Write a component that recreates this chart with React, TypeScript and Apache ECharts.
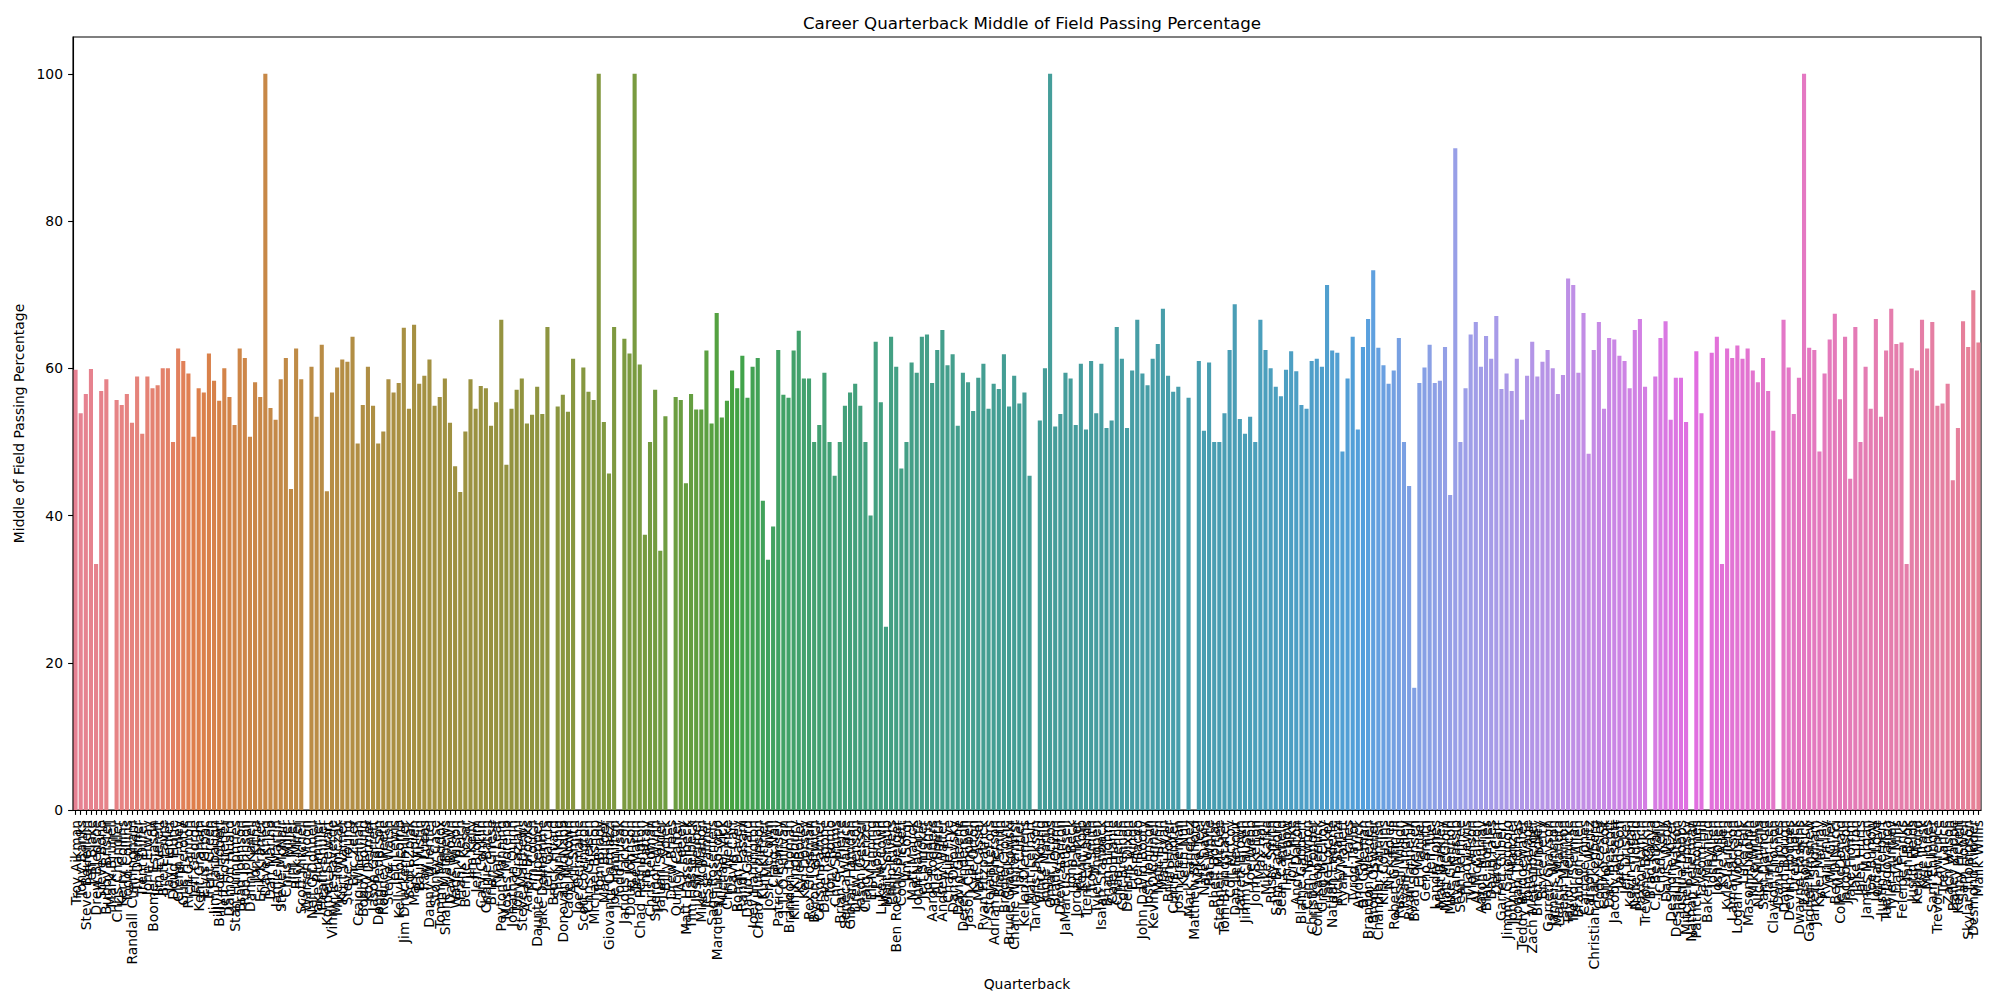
import React, { useEffect, useRef } from "react";
import * as echarts from "echarts";

// ---------- Tick labels (quarterbacks), grouped roughly by debut era ----------
const namesVeteransA = [
  "Troy Aikman", "Tony Banks", "Steve Beuerlein", "Jeff Blake", "Drew Bledsoe", "Steve Bono", "Bubby Brister", "Mark Brunell", "Chris Chandler", "Kerry Collins",
  "Todd Collins", "Randall Cunningham", "Ty Detmer", "Trent Dilfer", "John Elway", "Boomer Esiason", "Jim Everett", "Brett Favre", "Jay Fiedler", "Doug Flutie",
  "Glenn Foley", "Gus Frerotte", "Rich Gannon", "Jeff George", "Kent Graham", "Elvis Grbac", "Trent Green", "Jim Harbaugh", "Billy Joe Hobert", "Jeff Hostetler",
  "Damon Huard", "Stan Humphries", "Brad Johnson", "Rob Johnson", "Danny Kanell", "Jon Kitna", "Erik Kramer", "Dave Krieg", "Dan Marino", "Jamie Martin",
];
const namesVeteransB = [
  "Steve McNair", "Chris Miller", "Jim Miller", "Rick Mirer", "Scott Mitchell", "Warren Moon", "Neil O'Donnell", "Jake Plummer", "Heath Shuler", "Kordell Stewart",
  "Vinny Testaverde", "Mike Tomczak", "Kurt Warner", "Steve Young", "Eric Zeier", "Craig Whelihan", "Bobby Hoying", "Koy Detmer", "Jason Garrett", "Doug Pederson",
  "Rodney Peete", "Steve Walsh", "Jeff Lewis", "Kelly Holcomb", "Jim Druckenmiller", "Scott Zolak", "Mark Rypien", "Paul Justin", "Ray Lucas", "Danny Wuerffel",
  "Stoney Case", "Tommy Maddox", "Shane Matthews", "Dave Brown", "Wade Wilson", "Frank Reich", "Bernie Kosar", "Jim Kelly", "Jeff Brohm", "Cary Conklin",
];
const names1998to2001 = [
  "Charlie Batch", "Brian Griese", "Ryan Leaf", "Peyton Manning", "Moses Moreno", "Jonathan Quinn", "Tony Graziani", "Steve Matthews",
  "Aaron Brooks", "Tim Couch", "Daunte Culpepper", "Jake Delhomme", "Jeff Garcia", "Brock Huard", "Shaun King", "Donovan McNabb", "Cade McNown", "Akili Smith",
  "Joe Germaine", "Scott Covington", "Chris Greisen", "Michael Bishop", "Tom Brady",
  "Marc Bulger", "Giovanni Carmazzi", "Joe Hamilton", "Todd Husak", "Jarious Jackson", "Doug Johnson", "Tee Martin", "Chad Pennington", "Tim Rattay", "Chris Redman",
  "Spergon Wynn", "JaJuan Seider", "Billy Volek",
  "Drew Brees", "Quincy Carter", "A.J. Feeley", "Matt Hasselbeck", "Tim Hasselbeck", "Josh Heupel", "Mike McMahon", "Jesse Palmer", "Sage Rosenfels", "Marques Tuiasosopo",
  "Michael Vick", "Chris Weinke",
];
const names2002to2005 = [
  "David Carr", "Rohan Davey", "Randy Fasani", "David Garrard", "Joey Harrington", "Chad Hutchinson", "Kurt Kittner", "Josh McCown", "Craig Nall", "Patrick Ramsey",
  "J.T. O'Sullivan", "Brandon Doman", "Kliff Kingsbury",
  "Kyle Boller", "Ken Dorsey", "Rex Grossman", "Byron Leftwich", "Carson Palmer", "Dave Ragone", "Tony Romo", "Chris Simms", "Brian St. Pierre", "Seneca Wallace",
  "Gibran Hamdan", "Drew Henson", "Jason Gesser",
  "Craig Krenzel", "Eli Manning", "J.P. Losman", "Luke McCown", "Matt Schaub", "Philip Rivers", "Ben Roethlisberger", "Cody Pickett", "Jim Sorgi", "Matt Mauck",
  "John Navarre", "Jeff Smoker", "Josh Harris",
  "Aaron Rodgers", "Alex Smith", "Andrew Walter", "Charlie Frye", "Dan Orlovsky", "David Greene", "Derek Anderson", "Jason Campbell", "Kyle Orton", "Matt Cassel",
  "Ryan Fitzpatrick", "Stefan LeFors", "Adrian McPherson",
];
const names2006to2010 = [
  "Brad Smith", "Brodie Croyle", "Bruce Gradkowski", "Charlie Whitehurst", "Jay Cutler", "Kellen Clemens", "Matt Leinart", "Tarvaris Jackson", "Vince Young", "Ingle Martin",
  "Omar Jacobs",
  "Brady Quinn", "Drew Stanton", "JaMarcus Russell", "John Beck", "Jordan Palmer", "Kevin Kolb", "Trent Edwards", "Troy Smith", "Tyler Thigpen", "Isaiah Stanback",
  "Brian Brohm", "Caleb Hanie", "Chad Henne", "Colt Brennan", "Dennis Dixon", "Erik Ainge", "Joe Flacco", "John David Booty", "Josh Johnson", "Kevin O'Connell",
  "Matt Flynn", "Matt Ryan",
  "Brian Hoyer", "Curtis Painter", "Josh Freeman", "Keith Null", "Mark Sanchez", "Matthew Stafford", "Mike Teel", "Nate Davis", "Pat White", "Rhett Bomar",
  "Stephen McGee", "Tom Brandstater",
  "Colt McCoy", "Dan LeFevour", "Jarrett Brown", "Jimmy Clausen", "Joe Webb", "John Skelton", "Max Hall", "Mike Kafka", "Rusty Smith", "Sam Bradford",
  "Sean Canfield", "Tim Tebow", "Tony Pike",
];
const names2011to2015 = [
  "Andy Dalton", "Blaine Gabbert", "Cam Newton", "Christian Ponder", "Colin Kaepernick", "Greg McElroy", "Jake Locker", "Nathan Enderle", "Ricky Stanzi", "Ryan Mallett",
  "T.J. Yates", "Tyrod Taylor",
  "Andrew Luck", "B.J. Coleman", "Brandon Weeden", "Brock Osweiler", "Chandler Harnish", "Kirk Cousins", "Nick Foles", "Robert Griffin III", "Russell Wilson", "Ryan Lindley",
  "Ryan Tannehill",
  "Brad Sorensen", "EJ Manuel", "Geno Smith", "Jeff Tuel", "Landry Jones", "Matt Barkley", "Matt McGloin", "Mike Glennon", "Ryan Nassib", "Sean Renfree",
  "Thad Lewis", "Tyler Wilson",
  "AJ McCarron", "Aaron Murray", "Blake Bortles", "David Fales", "Derek Carr", "Garrett Gilbert", "Jimmy Garoppolo", "Johnny Manziel", "Logan Thomas", "Teddy Bridgewater",
  "Tom Savage", "Zach Mettenberger",
  "Brett Hundley", "Bryce Petty", "Garrett Grayson", "Jameis Winston", "Marcus Mariota", "Sean Mannion", "Taylor Heinicke", "Trevor Siemian",
];
const names2016to2019 = [
  "Brandon Allen", "Cardale Jones", "Carson Wentz", "Christian Hackenberg", "Cody Kessler", "Connor Cook", "Dak Prescott", "Jacoby Brissett", "Jared Goff", "Jeff Driskel",
  "Kevin Hogan", "Nate Sudfeld", "Paxton Lynch", "Trevone Boykin",
  "Brad Kaaya", "C.J. Beathard", "Chad Kelly", "Davis Webb", "DeShone Kizer", "Deshaun Watson", "Joshua Dobbs", "Mitchell Trubisky", "Nathan Peterman", "Patrick Mahomes",
  "Taysom Hill",
  "Baker Mayfield", "Josh Allen", "Josh Rosen", "Kyle Allen", "Kyle Lauletta", "Lamar Jackson", "Logan Woodside", "Luke Falk", "Mason Rudolph", "Mike White",
  "Nick Mullens", "Sam Darnold", "Tanner Lee",
  "Clayton Thorson", "Daniel Jones", "David Blough", "Devlin Hodges", "Drew Lock", "Dwayne Haskins", "Easton Stick", "Gardner Minshew", "Jarrett Stidham", "Kyler Murray",
  "Ryan Finley", "Will Grier",
];
const names2020to2022 = [
  "Ben DiNucci", "Cole McDonald", "Jacob Eason", "Jake Fromm", "Jake Luton", "Jalen Hurts", "James Morgan", "Joe Burrow", "Jordan Love", "Justin Herbert",
  "Tua Tagovailoa", "Tyler Huntley",
  "Davis Mills", "Feleipe Franks", "Ian Book", "Justin Fields", "Kellen Mond", "Kyle Trask", "Mac Jones", "Sam Ehlinger", "Trevor Lawrence", "Trey Lance",
  "Zach Wilson",
  "Bailey Zappe", "Kenny Pickett", "Sam Howell", "Skylar Thompson", "Desmond Ridder", "Malik Willis",
];

// ---------- Middle of field passing percentage ----------
const pctSegment1 = [
  59.8, 53.9, 56.5, 59.9, 33.4, 56.9, 58.5, 0, 55.7, 55.0, 56.5, 52.6, 58.9, 51.1, 58.9, 57.3, 57.7, 60.0, 60.0, 50.0, 62.7,
  61.0, 59.3, 50.7, 57.3, 56.7, 62.0, 58.3, 55.6, 60.0, 56.1, 52.3, 62.7, 61.4, 50.7, 58.1, 56.1, 100, 54.6, 53.0, 58.5,
  61.4, 43.6, 62.7, 58.5, 0, 60.2, 53.4, 63.2, 43.3, 56.7, 60.1, 61.2, 60.9, 64.3, 49.8,
];
const pctSegment2 = [
  55.0, 60.2, 54.9, 49.8, 51.4, 58.5, 56.7, 58.0, 65.5, 54.5, 65.9, 57.9, 59.0, 61.2, 54.9, 56.1, 58.6, 52.6, 46.7, 43.2,
  51.4, 58.5, 54.5, 57.6, 57.3, 52.2, 55.4, 66.6, 46.9, 54.5, 57.1, 58.6, 52.5, 53.7, 57.5,
  53.8, 65.6, 0, 54.8, 56.4, 54.1, 61.3, 0, 60.1, 56.8, 55.7, 100, 52.7, 45.7, 65.6, 0, 64.0, 62.0, 100, 60.5,
  37.4, 50.0, 57.1, 35.2, 53.5, 0, 56.1, 55.7, 44.4, 56.5, 54.4, 54.4, 62.4, 52.5, 67.5,
];
const pctSegment3 = [
  53.3, 55.6, 59.7, 57.3, 61.7, 56.0, 60.2, 61.4, 42.0, 34.0, 38.5, 62.5, 56.4, 56.0, 62.4, 65.1, 58.6, 58.6, 50.0, 52.3,
  59.4, 50.0, 45.4, 50.0, 54.9, 56.7, 57.9, 54.9, 50.0, 40.0, 63.6, 55.4, 24.9, 64.3, 60.2,
  46.4, 50.0, 60.8, 59.4, 64.3, 64.6, 58.0, 62.5, 65.2, 60.4, 61.9, 52.2, 59.4, 58.1, 54.2, 58.7, 60.6, 54.5, 57.9, 57.2,
  61.9, 54.8, 59.0, 55.2, 56.7, 45.4, 0, 52.9, 60.0, 100, 52.1, 53.8, 59.4, 58.6, 52.3, 60.6,
];
const pctSegment4 = [
  51.7, 61.0, 53.9, 60.6, 51.9, 52.9, 65.6, 61.3, 51.9, 59.7, 66.6, 59.3, 57.7, 61.3, 63.3, 68.1, 59.0, 56.8, 57.5, 0,
  56.0, 0, 61.0, 51.5, 60.8, 50.0, 50.0, 53.9, 62.5, 68.7, 53.1, 51.1, 53.4, 50.0,
  66.6, 62.5, 60.0, 57.5, 56.2, 59.8, 62.3, 59.6, 55.0, 54.5, 61.0, 61.3, 60.2, 71.3, 62.4, 62.1, 48.7, 58.6, 64.3, 51.7,
  62.9, 66.7, 73.3, 62.8, 60.4, 57.9, 59.7, 64.1, 50.0, 44.0, 16.6, 58.0, 60.1, 63.2, 58.0,
];
const pctSegment5 = [
  58.3, 62.9, 42.8, 89.9, 50.0, 57.3, 64.6, 66.3, 60.2, 64.4, 61.3, 67.1, 57.2, 59.3, 56.9, 61.3, 53.0, 59.0, 63.6, 58.9,
  60.9, 62.5, 60.0, 56.5, 59.1, 72.2, 71.3, 59.4, 67.5, 48.4, 62.5, 66.3, 54.5, 64.1, 63.9, 61.7,
  61.0, 57.3, 65.2, 66.7, 57.5, 0, 58.9, 64.1, 66.4, 53.0, 58.7, 58.7, 52.7, 0, 62.3, 53.9, 0, 62.1, 64.3, 33.4,
  62.7, 61.4, 63.1, 61.3, 62.7, 59.7, 58.1, 61.4, 56.9, 51.5, 0, 66.6, 60.1, 53.8, 58.7,
];
const pctSegment6 = [
  100, 62.8, 62.5, 48.7, 59.3, 63.9, 67.4, 55.8, 64.3, 45.0, 65.6, 50.0, 60.2, 54.5, 66.7, 53.4, 62.4, 68.1, 63.3, 63.5,
  33.4, 60.0, 59.7, 66.6, 62.7, 66.3, 54.9, 55.2, 57.9, 44.8, 51.9, 66.4, 62.9, 70.6, 63.5, 50.7,
];

const yTickValues = [0, 20, 40, 60, 80, 100];

const quarterbacks = [
  ...namesVeteransA, ...namesVeteransB, ...names1998to2001, ...names2002to2005,
  ...names2006to2010, ...names2011to2015, ...names2016to2019, ...names2020to2022,
];
const passPct = [...pctSegment1, ...pctSegment2, ...pctSegment3, ...pctSegment4, ...pctSegment5, ...pctSegment6];

// ---------- seaborn-like husl palette with 0.75 desaturation ----------
const MR = [
  [3.240969941904521, -1.537383177570093, -0.498610760293],
  [-0.96924363628087, 1.87596750150772, 0.041555057407175],
  [0.055630079696993, -0.20397695888897, 1.056971514242878],
];
function maxChroma(L: number, H: number) {
  const hrad = (H / 360) * Math.PI * 2;
  const sub1 = Math.pow(L + 16, 3) / 1560896;
  const sub2 = sub1 > 0.0088564516 ? sub1 : L / 903.2962962;
  let min = Infinity;
  for (const [m1, m2, m3] of MR) {
    for (let t = 0; t < 2; t++) {
      const top1 = (284517 * m1 - 94839 * m3) * sub2;
      const top2 = (838422 * m3 + 769860 * m2 + 731718 * m1) * L * sub2 - 769860 * t * L;
      const bottom = (632260 * m3 - 126452 * m2) * sub2 + 126452 * t;
      const slope = top1 / bottom;
      const intercept = top2 / bottom;
      const len = intercept / (Math.sin(hrad) - slope * Math.cos(hrad));
      if (len >= 0 && len < min) min = len;
    }
  }
  return min;
}
function huslToRgb(H: number, S: number, L: number) {
  const C = (maxChroma(L, H) / 100) * S;
  const hrad = (H / 180) * Math.PI;
  const U = C * Math.cos(hrad);
  const V = C * Math.sin(hrad);
  const Y = L <= 8 ? L / 903.2962962 : Math.pow((L + 16) / 116, 3);
  const varU = U / (13 * L) + 0.19783000664283;
  const varV = V / (13 * L) + 0.46831999493879;
  const X = 0 - (9 * Y * varU) / ((varU - 4) * varV - varU * varV);
  const Z = (9 * Y - 15 * varV * Y - varV * X) / (3 * varV);
  return MR.map(([a, b, c]) => {
    const v = a * X + b * Y + c * Z;
    const s = v <= 0.0031308 ? 12.92 * v : 1.055 * Math.pow(v, 1 / 2.4) - 0.055;
    return Math.min(1, Math.max(0, s));
  });
}
function hlsV(m1: number, m2: number, hue: number) {
  hue = ((hue % 1) + 1) % 1;
  if (hue < 1 / 6) return m1 + (m2 - m1) * hue * 6;
  if (hue < 0.5) return m2;
  if (hue < 2 / 3) return m1 + (m2 - m1) * (2 / 3 - hue) * 6;
  return m1;
}
function desaturate(rgb: number[], prop: number) {
  const [r, g, b] = rgb;
  const maxc = Math.max(r, g, b);
  const minc = Math.min(r, g, b);
  const l = (maxc + minc) / 2;
  if (maxc === minc) return rgb;
  let s = l <= 0.5 ? (maxc - minc) / (maxc + minc) : (maxc - minc) / (2 - maxc - minc);
  const rc = (maxc - r) / (maxc - minc);
  const gc = (maxc - g) / (maxc - minc);
  const bc = (maxc - b) / (maxc - minc);
  let h: number;
  if (r === maxc) h = bc - gc;
  else if (g === maxc) h = 2 + rc - bc;
  else h = 4 + gc - rc;
  h = (((h / 6) % 1) + 1) % 1;
  s *= prop;
  const m2 = l <= 0.5 ? l * (1 + s) : l + s - l * s;
  const m1 = 2 * l - m2;
  return [hlsV(m1, m2, h + 1 / 3), hlsV(m1, m2, h), hlsV(m1, m2, h - 1 / 3)];
}
function toHex(rgb: number[]) {
  return "#" + rgb.map((v) => Math.round(v * 255).toString(16).padStart(2, "0")).join("");
}
function barPalette(n: number) {
  const out: string[] = [];
  for (let i = 0; i < n; i++) {
    const h = (((i / n) + 0.01) % 1) * 359;
    out.push(toHex(desaturate(huslToRgb(h, 0.9 * 99, 0.65 * 99), 0.75)));
  }
  return out;
}

const FONT = "DejaVu Sans";

export default function App() {
  const ref = useRef<HTMLDivElement>(null);
  useEffect(() => {
    if (!ref.current) return;
    const chart = echarts.init(ref.current, null, { renderer: "svg" });
    const n = Math.min(quarterbacks.length, passPct.length);
    const colors = barPalette(n);
    const cats = quarterbacks.slice(0, n);
    const data = passPct.slice(0, n).map((v, i) => ({ value: v, itemStyle: { color: colors[i] } }));
    chart.setOption({
      animation: false,
      backgroundColor: "#ffffff",
      textStyle: { fontFamily: FONT },
      title: {
        text: "Career Quarterback Middle of Field Passing Percentage",
        left: 1027,
        top: 9,
        textAlign: "center",
        textStyle: { fontFamily: FONT, fontSize: 16.7, fontWeight: "normal", color: "#000" },
      },
      grid: {
        left: 73,
        right: 19,
        top: 37,
        bottom: 190,
        show: true,
        borderColor: "#000",
        borderWidth: 1.1,
        outerBoundsMode: "none",
      },
      xAxis: {
        type: "category",
        data: cats,
        name: "Quarterback",
        nameLocation: "middle",
        nameGap: 156,
        nameTextStyle: { fontFamily: FONT, fontSize: 13.9, color: "#000" },
        axisLine: { lineStyle: { color: "#000", width: 1.1 } },
        axisTick: { show: true, interval: 0, alignWithLabel: true, length: 4.9, lineStyle: { color: "#000", width: 1.1 } },
        axisLabel: { interval: 0, rotate: 90, margin: 10, fontFamily: FONT, fontSize: 13.9, color: "#000" },
        splitLine: { show: false },
      },
      yAxis: {
        type: "value",
        min: 0,
        max: 105,
        name: "Middle of Field Passing Percentage",
        nameLocation: "middle",
        nameRotate: 90,
        nameGap: 44,
        nameTextStyle: { fontFamily: FONT, fontSize: 13.9, color: "#000" },
        axisLine: { show: true, lineStyle: { color: "#000", width: 1.1 } },
        axisTick: { show: true, length: 4.9, customValues: yTickValues, lineStyle: { color: "#000", width: 1.1 } },
        axisLabel: { margin: 10, customValues: yTickValues, fontFamily: FONT, fontSize: 13.9, color: "#000" },
        splitLine: { show: false },
      },
      series: [
        {
          type: "bar",
          data,
          barCategoryGap: "20%",
        },
      ],
    });
    return () => chart.dispose();
  }, []);
  return (
    <div
      ref={ref}
      style={{ position: "absolute", left: 0, top: 0, width: 2000, height: 1000, background: "#fff" }}
    />
  );
}
